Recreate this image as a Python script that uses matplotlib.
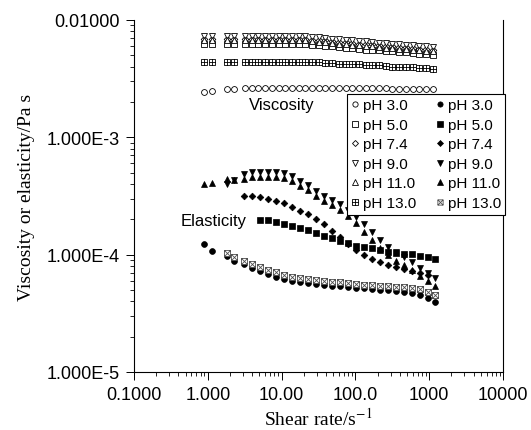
import numpy as np
import matplotlib
matplotlib.use("Agg")
import matplotlib.pyplot as plt
from matplotlib.path import Path

# shear rates (1/s)
shear_visc = [0.90, 1.14, 1.82, 2.26, 3.19, 3.94, 4.85, 5.97, 7.36, 9.08, 11.2, 13.8, 17.0,
              20.9, 25.8, 31.8, 39.2, 48.3, 59.6, 73.5, 90.6, 112, 137, 169, 209, 258, 318,
              391, 482, 594, 733, 903, 1110]
shear_elas = [0.888, 1.14, 1.82, 2.26, 3.09, 3.97, 5.10, 6.54, 8.40, 10.8, 13.8, 17.8, 22.8,
              29.3, 37.6, 48.2, 61.9, 79.4, 102, 131, 168, 215, 277, 355, 456, 585, 750, 963, 1200]

# viscosity, mPa s (open symbols)
visc_ph3 = [2.45, 2.50, 2.60, 2.60, 2.62, 2.62, 2.63, 2.62, 2.62, 2.62, 2.63, 2.62, 2.62, 2.62,
            2.62, 2.62, 2.62, 2.62, 2.61, 2.62, 2.62, 2.61, 2.61, 2.61, 2.61, 2.61, 2.60, 2.60,
            2.60, 2.60, 2.60, 2.60, 2.58]
visc_ph5 = [6.2, 6.2, 6.2, 6.2, 6.2, 6.2, 6.2, 6.2, 6.2, 6.2, 6.2, 6.2, 6.2, 6.2,
            6.15, 6.1, 6.0, 5.95, 5.9, 5.8, 5.75, 5.7, 5.6, 5.55, 5.5, 5.45, 5.4, 5.35,
            5.3, 5.2, 5.15, 5.1, 5.05]
visc_ph74 = [6.9, 6.9, 6.9, 6.9, 6.9, 6.9, 6.9, 6.9, 6.9, 6.9, 6.9, 6.9, 6.9, 6.9,
             6.8, 6.75, 6.7, 6.6, 6.5, 6.45, 6.4, 6.3, 6.25, 6.2, 6.1, 6.05, 6.0, 5.9,
             5.85, 5.8, 5.7, 5.65, 5.6]
visc_ph9 = [7.3, 7.3, 7.3, 7.3, 7.3, 7.3, 7.3, 7.3, 7.3, 7.3, 7.3, 7.3, 7.3, 7.3,
            7.2, 7.1, 7.0, 6.95, 6.9, 6.8, 6.7, 6.65, 6.6, 6.5, 6.4, 6.35, 6.3, 6.2,
            6.15, 6.1, 6.0, 5.95, 5.9]
visc_ph11 = [6.7, 6.7, 6.7, 6.7, 6.7, 6.7, 6.7, 6.7, 6.7, 6.7, 6.7, 6.7, 6.7, 6.7,
             6.6, 6.5, 6.45, 6.4, 6.3, 6.2, 6.15, 6.1, 6.0, 5.95, 5.9, 5.8, 5.75, 5.7,
             5.65, 5.6, 5.5, 5.45, 5.4]
visc_ph13 = [4.4, 4.4, 4.4, 4.4, 4.4, 4.4, 4.4, 4.4, 4.4, 4.4, 4.4, 4.4, 4.4, 4.4,
             4.35, 4.35, 4.3, 4.3, 4.25, 4.25, 4.2, 4.2, 4.15, 4.1, 4.1, 4.05, 4.0, 4.0,
             3.95, 3.95, 3.9, 3.9, 3.85]

# elasticity, Pa s (filled symbols)
nan = np.nan
elas_ph3 = [1.23e-4, 1.07e-4, 9.7e-5, 8.9e-5, 8.3e-5, 7.7e-5, 7.24e-5, 6.84e-5, 6.44e-5,
            6.19e-5, 5.96e-5, 5.84e-5, 5.72e-5, 5.61e-5, 5.5e-5, 5.45e-5, 5.4e-5, 5.3e-5,
            5.2e-5, 5.15e-5, 5.09e-5, 5.0e-5, 4.95e-5, 4.9e-5, 4.8e-5, 4.7e-5, 4.5e-5,
            4.25e-5, 3.95e-5]
elas_ph5 = [nan, nan, nan, nan, nan, nan, 1.99e-4, 1.97e-4, 1.91e-4, 1.84e-4, 1.77e-4,
            1.70e-4, 1.62e-4, 1.54e-4, 1.45e-4, 1.38e-4, 1.32e-4, 1.26e-4, 1.18e-4, 1.16e-4,
            1.13e-4, 1.10e-4, 1.06e-4, 1.03e-4, 1.02e-4, 1.01e-4, 9.7e-5, 9.5e-5, 9.2e-5]
elas_ph74 = [nan, nan, nan, nan, 3.16e-4, 3.16e-4, 3.10e-4, 3.0e-4, 2.86e-4, 2.73e-4, 2.55e-4,
             2.35e-4, 2.22e-4, 2.03e-4, 1.82e-4, 1.59e-4, 1.41e-4, 1.23e-4, 1.10e-4, 1.0e-4,
             9.18e-5, 8.65e-5, 8.15e-5, 7.84e-5, 7.54e-5, 7.24e-5, 6.97e-5, 6.7e-5, nan]
elas_ph9 = [nan, nan, 4.0e-4, 4.33e-4, 4.91e-4, 5.11e-4, 5.11e-4, 5.11e-4, 5.11e-4, 5.01e-4,
            4.68e-4, 4.28e-4, 3.92e-4, 3.52e-4, 3.19e-4, 2.95e-4, 2.70e-4, 2.40e-4, 2.09e-4,
            1.81e-4, 1.56e-4, 1.33e-4, 1.16e-4, 1.05e-4, 9.54e-5, 8.65e-5, 7.69e-5, 6.97e-5,
            6.32e-5]
elas_ph11 = [4.0e-4, 4.08e-4, 4.41e-4, 4.32e-4, 4.45e-4, 4.63e-4, 4.63e-4, 4.63e-4, 4.63e-4,
             4.54e-4, 4.24e-4, 3.88e-4, 3.55e-4, 3.19e-4, 2.89e-4, 2.67e-4, 2.40e-4, 2.13e-4,
             1.86e-4, 1.57e-4, 1.33e-4, 1.14e-4, 9.93e-5, 8.9e-5, 8.15e-5, 7.4e-5, 6.57e-5,
             5.96e-5, 5.4e-5]
elas_ph13 = [nan, nan, 1.03e-4, 9.5e-5, 8.8e-5, 8.3e-5, 7.85e-5, 7.4e-5, 7.05e-5, 6.7e-5,
             6.5e-5, 6.35e-5, 6.2e-5, 6.1e-5, 5.96e-5, 5.84e-5, 5.8e-5, 5.72e-5, 5.6e-5,
             5.55e-5, 5.5e-5, 5.45e-5, 5.4e-5, 5.3e-5, 5.25e-5, 5.2e-5, 5.05e-5, 4.8e-5, 4.5e-5]

labels = ["pH 3.0", "pH 5.0", "pH 7.4", "pH 9.0", "pH 11.0", "pH 13.0"]
xticks = [0.1, 1, 10, 100, 1000, 10000]
xticklabels = ["0.1000", "1.000", "10.00", "100.0", "1000", "10000"]
yticks = [1e-5, 1e-4, 1e-3, 1e-2]
yticklabels = ["1.000E-5", "1.000E-4", "1.000E-3", "0.01000"]

# square with plus / square with cross markers
M, L, C = Path.MOVETO, Path.LINETO, Path.CLOSEPOLY
sq_plus = Path([(-1, -1), (1, -1), (1, 1), (-1, 1), (-1, -1), (0, -1), (0, 1), (-1, 0), (1, 0)],
               [M, L, L, L, C, M, L, M, L])
sq_cross = Path([(-1, -1), (1, -1), (1, 1), (-1, 1), (-1, -1), (-1, -1), (1, 1), (-1, 1), (1, -1)],
                [M, L, L, L, C, M, L, M, L])

plt.rcParams["font.family"] = ["Liberation Sans", "DejaVu Sans"]
plt.rcParams["mathtext.fontset"] = "stix"

fig = plt.figure(figsize=(5.31, 4.31), dpi=100)
ax = fig.add_axes([0.2524, 0.1346, 0.6949, 0.8167])

ms = 4.2
open_kw = dict(ls="none", color="black", mfc="white", mew=0.6, ms=ms)
fill_kw = dict(ls="none", color="black", mew=0.5, ms=ms)

visc = [visc_ph3, visc_ph5, visc_ph74, visc_ph9, visc_ph11, visc_ph13]
elas = [elas_ph3, elas_ph5, elas_ph74, elas_ph9, elas_ph11, elas_ph13]
mk = ["o", "s", "D", "v", "^", sq_plus]
mk_fill = ["o", "s", "D", "v", "^", sq_cross]

handles = []
for v, m, lab in zip(visc, mk, labels):
    kw = dict(open_kw)
    if m == "D":
        kw["ms"] = ms - 0.8
    h, = ax.plot(shear_visc, np.array(v) * 1e-3, marker=m, label=lab, **kw)
    handles.append(h)
for e, m, lab in zip(elas, mk_fill, labels):
    kw = dict(fill_kw)
    if m == "D":
        kw["ms"] = ms - 0.8
    if m is sq_cross:
        kw.update(mfc="white", color="0.3", mew=0.6)
    h, = ax.plot(shear_elas, e, marker=m, label=lab, **kw)
    handles.append(h)

ax.set_xscale("log")
ax.set_yscale("log")
ax.set_xlim(0.1, 10000)
ax.set_ylim(1e-5, 1e-2)
ax.set_xticks(xticks)
ax.set_xticklabels(xticklabels)
ax.set_yticks(yticks)
ax.set_yticklabels(yticklabels)
ax.tick_params(which="major", direction="out", length=6, width=0.7, labelsize=13, pad=4)
ax.tick_params(which="minor", direction="out", length=3, width=0.6)
ax.tick_params(top=False, right=False, which="both")
ax.spines["top"].set_visible(False)
for s in ["left", "bottom", "right"]:
    ax.spines[s].set_linewidth(0.8)

ax.set_xlabel("Shear rate/s$^{-1}$", family="Liberation Serif", fontsize=14, labelpad=3)
ax.set_ylabel("Viscosity or elasticity/Pa s", family="Liberation Serif", fontsize=14, labelpad=9)

ax.text(10.1, 1.92e-3, "Viscosity", fontsize=12, ha="center", va="center")
ax.text(1.18, 1.97e-4, "Elasticity", fontsize=12, ha="center", va="center")

leg = ax.legend(handles=handles, ncol=2, loc="upper left", bbox_to_anchor=(0.577, 0.79),
                fontsize=11, frameon=True, fancybox=False, framealpha=1, edgecolor="black",
                handlelength=0.5, handletextpad=0.25, columnspacing=1.3, labelspacing=0.36,
                borderpad=0.3, borderaxespad=0, markerscale=0.9)
leg.get_frame().set_linewidth(0.8)

fig.savefig("out.png", dpi=100)
